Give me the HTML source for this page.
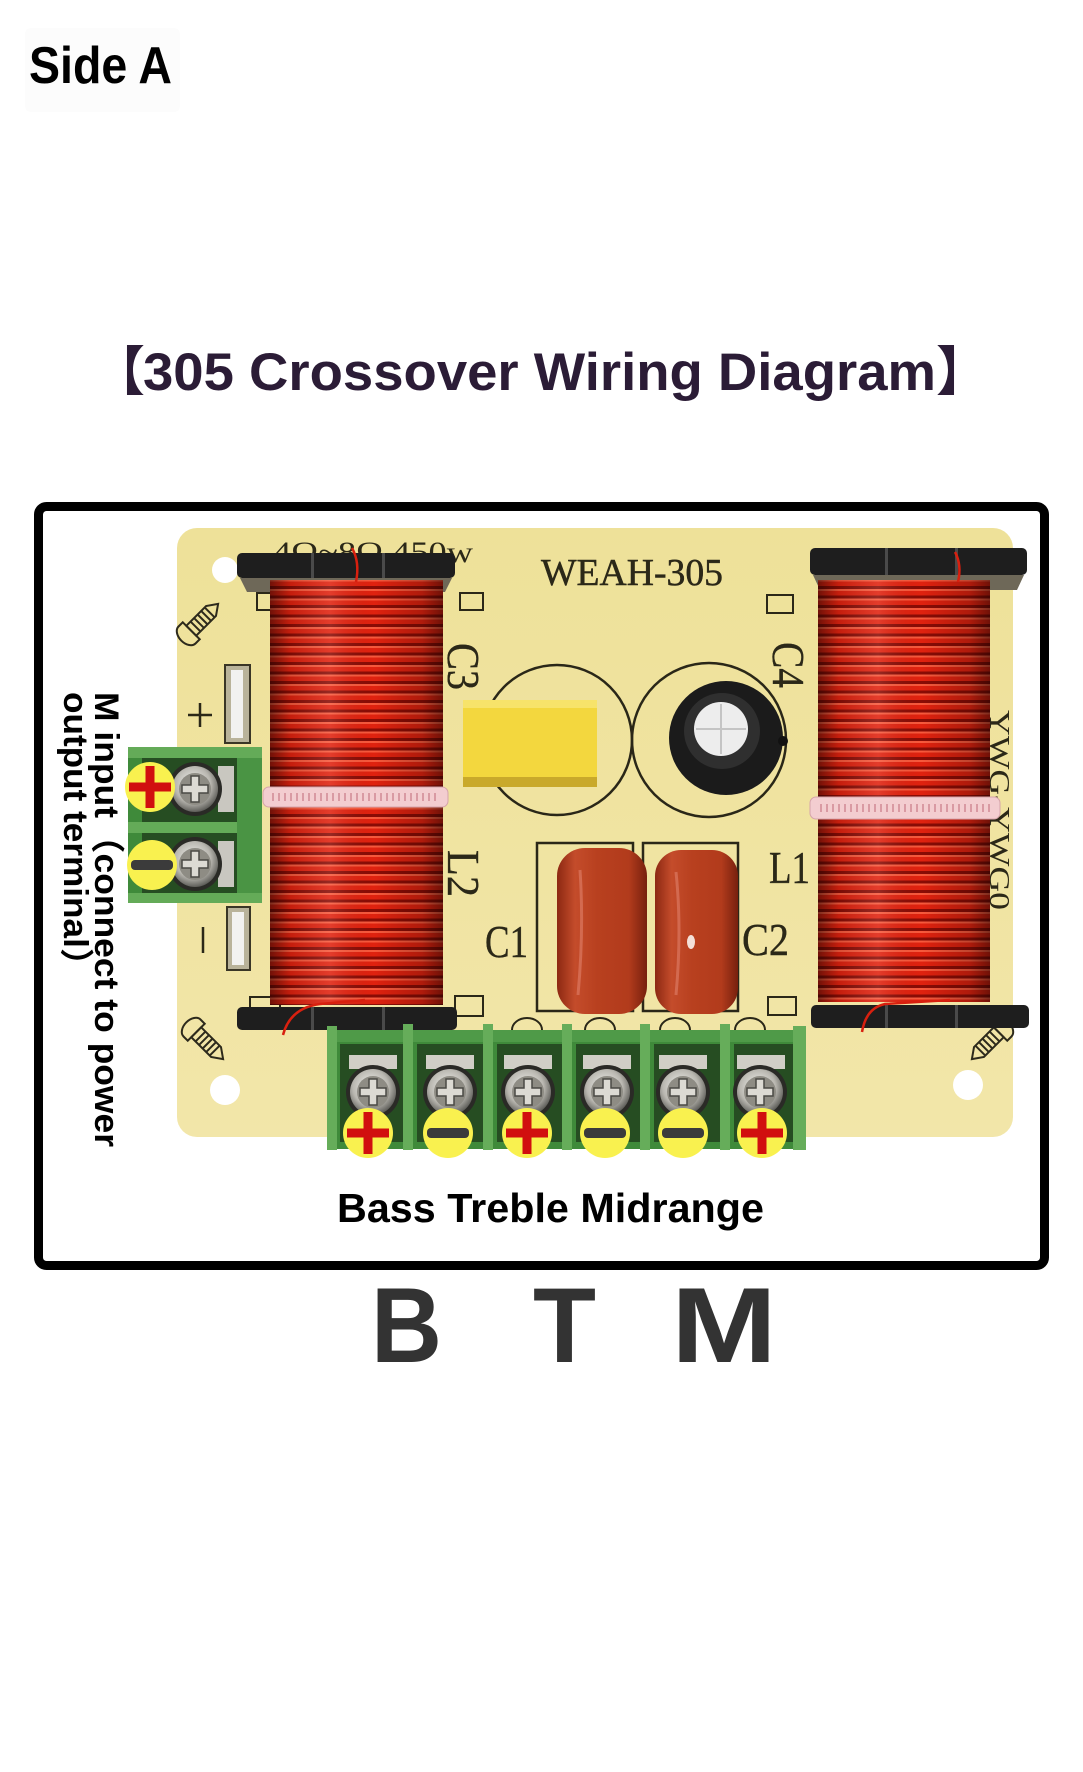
<!DOCTYPE html>
<html>
<head>
<meta charset="utf-8">
<style>
html,body{margin:0;padding:0;background:#fff;width:1083px;height:1772px;overflow:hidden}
svg{display:block}
</style>
</head>
<body>
<svg width="1083" height="1772" viewBox="0 0 1083 1772" xmlns="http://www.w3.org/2000/svg">
<defs>
  <pattern id="wind" x="0" y="0" width="10" height="9.5" patternUnits="userSpaceOnUse">
    <rect width="10" height="9.5" fill="#e0220f"/>
    <rect y="0" width="10" height="2" fill="#ff6a4a" opacity="0.75"/>
    <rect y="6.5" width="10" height="3" fill="#8a0c05"/>
  </pattern>
  <linearGradient id="cyl" x1="0" x2="1" y1="0" y2="0">
    <stop offset="0" stop-color="#000" stop-opacity="0.5"/>
    <stop offset="0.12" stop-color="#000" stop-opacity="0.12"/>
    <stop offset="0.35" stop-color="#fff" stop-opacity="0.12"/>
    <stop offset="0.6" stop-color="#000" stop-opacity="0"/>
    <stop offset="0.88" stop-color="#000" stop-opacity="0.22"/>
    <stop offset="1" stop-color="#000" stop-opacity="0.5"/>
  </linearGradient>
  <linearGradient id="pcb" x1="0" x2="0" y1="0" y2="1">
    <stop offset="0" stop-color="#eee199"/>
    <stop offset="1" stop-color="#f2e6a9"/>
  </linearGradient>
  <radialGradient id="screw" cx="0.45" cy="0.4" r="0.65">
    <stop offset="0" stop-color="#f6f6f3"/>
    <stop offset="0.6" stop-color="#b9b7b0"/>
    <stop offset="1" stop-color="#4a4a46"/>
  </radialGradient>
  <linearGradient id="capred" x1="0" x2="1" y1="0" y2="0">
    <stop offset="0" stop-color="#8c2812"/>
    <stop offset="0.2" stop-color="#c44c2b"/>
    <stop offset="0.45" stop-color="#b8401f"/>
    <stop offset="0.8" stop-color="#b23b1c"/>
    <stop offset="1" stop-color="#77200e"/>
  </linearGradient>
  <g id="scr">
    <circle r="27" fill="#2a2a26"/>
    <circle r="23" fill="url(#screw)"/>
    <circle r="16" fill="#8e8c84"/>
    <path d="M-13,-4h9v-9h8v9h9v8h-9v9h-8v-9h-9z" fill="#dcdad3" stroke="#4a4944" stroke-width="1.5"/>
  </g>
  <g id="plus">
    <circle r="25" fill="#f9f14f"/>
    <rect x="-21" y="-4.5" width="42" height="9" fill="#d10f0f"/>
    <rect x="-4.5" y="-21" width="9" height="42" fill="#d10f0f"/>
  </g>
  <g id="minus">
    <circle r="25" fill="#f9f14f"/>
    <rect x="-21" y="-5" width="42" height="10" rx="4" fill="#3b3b3b"/>
  </g>
  <g id="sicon" fill="none" stroke="#2d2a1c" stroke-width="2">
    <path d="M0,-12 a8,12 0 0 0 0,24 h6 v-24 z"/>
    <path d="M6,-7 h28 l10,7 l-10,7 h-28 z"/>
    <path d="M12,-7v14M17,-7v14M22,-7v14M27,-7v14M32,-7v14"/>
  </g>
</defs>

<rect width="1083" height="1772" fill="#fff"/>

<!-- Side A -->
<rect x="25" y="28" width="155" height="84" rx="6" fill="#fcfcfc"/>
<text x="29" y="83" font-family="'Liberation Sans', sans-serif" font-weight="bold" font-size="52" fill="#000" textLength="143" lengthAdjust="spacingAndGlyphs">Side A</text>

<!-- Title -->
<text x="92" y="390" font-family="'Noto Sans CJK SC', 'Liberation Sans', sans-serif" font-weight="bold" font-size="53" fill="#2b1c36">【</text>
<text x="143" y="390" font-family="'Liberation Sans', sans-serif" font-weight="bold" font-size="53" fill="#2b1c36" textLength="793" lengthAdjust="spacingAndGlyphs">305 Crossover Wiring Diagram</text>
<text x="936" y="390" font-family="'Noto Sans CJK SC', 'Liberation Sans', sans-serif" font-weight="bold" font-size="53" fill="#2b1c36">】</text>

<!-- PCB -->
<rect x="177" y="528" width="836" height="609" rx="20" fill="url(#pcb)"/>
<circle cx="225" cy="570" r="13" fill="#fff"/>
<circle cx="225" cy="1090" r="15" fill="#fff"/>
<circle cx="968" cy="1085" r="15" fill="#fff"/>

<!-- silkscreen screw icons -->
<use href="#sicon" transform="translate(187,635) rotate(-45)"/>
<use href="#sicon" transform="translate(192,1028) rotate(45)"/>
<use href="#sicon" transform="translate(1003,1028) rotate(135)"/>

<!-- top silkscreen text (mostly hidden) -->
<text x="273" y="562" font-family="'Liberation Serif', serif" font-size="30" fill="#2b2818" textLength="200" lengthAdjust="spacingAndGlyphs">4Ω~8Ω 450w</text>
<text x="541" y="585" font-family="'Liberation Serif', serif" font-size="38" fill="#2b2818" stroke="#2b2818" stroke-width="0.5" textLength="182" lengthAdjust="spacingAndGlyphs">WEAH-305</text>

<!-- small silkscreen rects near bobbins -->
<g fill="none" stroke="#2b2818" stroke-width="2">
  <rect x="257" y="593" width="14" height="17"/>
  <rect x="460" y="593" width="23" height="17"/>
  <rect x="767" y="595" width="26" height="18"/>
  <rect x="250" y="997" width="30" height="14"/>
  <rect x="455" y="996" width="28" height="20"/>
  <rect x="768" y="997" width="28" height="18"/>
</g>

<!-- rotated labels -->
<g font-family="'Liberation Serif', serif" font-size="46" fill="#2b2818" stroke="#2b2818" stroke-width="0.4">
  <text x="448" y="643" transform="rotate(90 448 643)" textLength="47" lengthAdjust="spacingAndGlyphs">C3</text>
  <text x="773" y="642" transform="rotate(90 773 642)" textLength="46" lengthAdjust="spacingAndGlyphs">C4</text>
  <text x="448" y="850" transform="rotate(90 448 850)" textLength="47" lengthAdjust="spacingAndGlyphs">L2</text>
  <text x="769" y="883" textLength="41" lengthAdjust="spacingAndGlyphs">L1</text>
  <text x="485" y="957" textLength="43" lengthAdjust="spacingAndGlyphs">C1</text>
  <text x="742" y="955" textLength="47" lengthAdjust="spacingAndGlyphs">C2</text>
</g>
<text x="990" y="710" transform="rotate(90 990 710)" font-family="'Liberation Serif', serif" font-size="28" fill="#2b2818" textLength="200" lengthAdjust="spacingAndGlyphs">YWG-YWG0</text>

<!-- +/- silkscreen and slots -->
<g stroke="#2b2818" stroke-width="2.5">
  <line x1="188" y1="715" x2="212" y2="715"/>
  <line x1="200" y1="703" x2="200" y2="727"/>
  <line x1="203" y1="927" x2="203" y2="953"/>
</g>
<rect x="225" y="665" width="25" height="78" fill="#b9b39a" stroke="#3a3626" stroke-width="2"/>
<rect x="231" y="670" width="12" height="68" fill="#f2f2f0"/>
<rect x="227" y="907" width="23" height="63" fill="#b9b39a" stroke="#3a3626" stroke-width="2"/>
<rect x="232" y="912" width="12" height="53" fill="#f2f2f0"/>

<!-- circles C3/C4 -->
<circle cx="557" cy="740" r="75" fill="none" stroke="#2a2718" stroke-width="2.5"/>
<circle cx="709" cy="740" r="77" fill="none" stroke="#2a2718" stroke-width="2.5"/>

<!-- yellow box cap -->
<rect x="463" y="700" width="134" height="87" fill="#f3d73e"/>
<rect x="463" y="700" width="134" height="8" fill="#f7e36a"/>
<rect x="463" y="777" width="134" height="10" fill="#c9a92b"/>

<!-- electrolytic -->
<circle cx="726" cy="738" r="57" fill="#1b1b1b"/>
<circle cx="722" cy="731" r="38" fill="#2f2f2f"/>
<circle cx="721" cy="729" r="27" fill="#ededed"/>
<line x1="721" y1="704" x2="721" y2="754" stroke="#c4c4c4" stroke-width="2"/>
<line x1="696" y1="729" x2="746" y2="729" stroke="#c4c4c4" stroke-width="2"/>
<circle cx="783" cy="741" r="5" fill="#111"/>

<!-- C1/C2 silkscreen boxes and caps -->
<rect x="537" y="843" width="96" height="168" fill="none" stroke="#2a2718" stroke-width="2.5"/>
<rect x="643" y="843" width="95" height="168" fill="none" stroke="#2a2718" stroke-width="2.5"/>
<rect x="557" y="848" width="90" height="166" rx="28" fill="url(#capred)"/>
<rect x="655" y="850" width="83" height="164" rx="26" fill="url(#capred)"/>
<path d="M580,870 Q584,930 578,995" stroke="#e0806a" stroke-width="3" fill="none" opacity="0.6"/>
<path d="M676,872 Q682,930 676,995" stroke="#e0806a" stroke-width="3" fill="none" opacity="0.6"/>
<ellipse cx="691" cy="942" rx="4" ry="7" fill="#f4e0d8"/>

<!-- left terminal block -->
<rect x="128" y="747" width="134" height="156" fill="#3f8a3a"/>
<rect x="142" y="758" width="95" height="64" fill="#264d22"/>
<rect x="142" y="833" width="95" height="60" fill="#264d22"/>
<rect x="128" y="747" width="134" height="11" fill="#64ab58"/>
<rect x="128" y="822" width="134" height="11" fill="#64ab58"/>
<rect x="128" y="893" width="134" height="10" fill="#64ab58"/>
<rect x="237" y="758" width="25" height="135" fill="#4a9444"/>
<rect x="218" y="766" width="16" height="46" fill="#c9c7c0"/>
<rect x="218" y="841" width="16" height="46" fill="#c9c7c0"/>
<use href="#scr" x="195" y="789"/>
<use href="#scr" x="195" y="864"/>
<use href="#plus" x="150" y="787"/>
<use href="#minus" x="152" y="865"/>

<!-- left coil -->
<path d="M240,578 L452,578 L445,592 L247,592 Z" fill="#6e6858"/>
<rect x="270" y="580" width="173" height="425" fill="url(#wind)"/>
<rect x="270" y="580" width="173" height="425" fill="url(#cyl)"/>
<rect x="237" y="553" width="218" height="25" rx="5" fill="#1e1e1e"/>
<rect x="311" y="553" width="3" height="25" fill="#4a4a4a"/>
<rect x="382" y="553" width="3" height="25" fill="#4a4a4a"/>
<rect x="237" y="1007" width="220" height="23" rx="5" fill="#1e1e1e"/>
<rect x="311" y="1007" width="3" height="23" fill="#4a4a4a"/>
<rect x="382" y="1007" width="3" height="23" fill="#4a4a4a"/>
<rect x="263" y="787" width="185" height="20" rx="6" fill="#f3cdd0" stroke="#d6a4aa" stroke-width="1"/>
<line x1="272" y1="797" x2="440" y2="797" stroke="#d99aa3" stroke-width="8" stroke-dasharray="2 4"/>
<path d="M352,548 Q360,562 356,582" stroke="#d8200f" stroke-width="2.5" fill="none"/>
<path d="M283,1035 Q290,1008 320,1004 L365,1000" stroke="#d8200f" stroke-width="2.5" fill="none"/>

<!-- right coil -->
<path d="M813,575 L1024,575 L1017,590 L820,590 Z" fill="#6e6858"/>
<rect x="818" y="580" width="172" height="422" fill="url(#wind)"/>
<rect x="818" y="580" width="172" height="422" fill="url(#cyl)"/>
<rect x="810" y="548" width="217" height="27" rx="5" fill="#1e1e1e"/>
<rect x="885" y="548" width="3" height="27" fill="#4a4a4a"/>
<rect x="955" y="548" width="3" height="27" fill="#4a4a4a"/>
<rect x="811" y="1005" width="218" height="23" rx="5" fill="#1e1e1e"/>
<rect x="885" y="1005" width="3" height="23" fill="#4a4a4a"/>
<rect x="955" y="1005" width="3" height="23" fill="#4a4a4a"/>
<rect x="810" y="797" width="190" height="22" rx="6" fill="#f3cdd0" stroke="#d6a4aa" stroke-width="1"/>
<line x1="820" y1="808" x2="990" y2="808" stroke="#d99aa3" stroke-width="8" stroke-dasharray="2 4"/>
<path d="M955,552 Q962,565 958,582" stroke="#d8200f" stroke-width="2.5" fill="none"/>
<path d="M862,1032 Q866,1008 885,1004 L950,1000" stroke="#d8200f" stroke-width="2.5" fill="none"/>

<!-- arcs above bottom block -->
<g fill="none" stroke="#2a2718" stroke-width="2">
  <path d="M512,1030 a15,12 0 0 1 30,0"/>
  <path d="M585,1030 a15,12 0 0 1 30,0"/>
  <path d="M660,1030 a15,12 0 0 1 30,0"/>
  <path d="M735,1030 a15,12 0 0 1 30,0"/>
</g>

<!-- bottom terminal block -->
<rect x="327" y="1030" width="479" height="119" fill="#3f8a3a"/>
<rect x="327" y="1030" width="479" height="12" fill="#4f9a48"/>
<g fill="#264d22">
  <rect x="340" y="1044" width="64" height="98"/>
  <rect x="417" y="1044" width="66" height="98"/>
  <rect x="497" y="1044" width="66" height="98"/>
  <rect x="576" y="1044" width="65" height="98"/>
  <rect x="654" y="1044" width="67" height="98"/>
  <rect x="734" y="1044" width="59" height="98"/>
</g>
<g fill="#66ad5a">
  <rect x="327" y="1026" width="10" height="124"/>
  <rect x="403" y="1024" width="10" height="126"/>
  <rect x="483" y="1024" width="10" height="126"/>
  <rect x="562" y="1024" width="10" height="126"/>
  <rect x="640" y="1024" width="10" height="126"/>
  <rect x="720" y="1024" width="10" height="126"/>
  <rect x="793" y="1026" width="13" height="124"/>
</g>
<g fill="#d0cec6">
  <rect x="349" y="1055" width="48" height="14"/>
  <rect x="426" y="1055" width="48" height="14"/>
  <rect x="504" y="1055" width="48" height="14"/>
  <rect x="583" y="1055" width="48" height="14"/>
  <rect x="659" y="1055" width="48" height="14"/>
  <rect x="737" y="1055" width="48" height="14"/>
</g>
<use href="#scr" x="373" y="1092"/>
<use href="#scr" x="450" y="1092"/>
<use href="#scr" x="528" y="1092"/>
<use href="#scr" x="607" y="1092"/>
<use href="#scr" x="683" y="1092"/>
<use href="#scr" x="760" y="1092"/>
<use href="#plus" x="368" y="1133"/>
<use href="#minus" x="448" y="1133"/>
<use href="#plus" x="527" y="1133"/>
<use href="#minus" x="605" y="1133"/>
<use href="#minus" x="683" y="1133"/>
<use href="#plus" x="762" y="1133"/>

<!-- vertical text -->
<text x="95" y="692" transform="rotate(90 95 692)" font-family="'Liberation Sans', 'Noto Sans CJK SC', sans-serif" font-weight="bold" font-size="34" fill="#000" textLength="455" lengthAdjust="spacingAndGlyphs">M input（connect to power</text>
<text x="64" y="692" transform="rotate(90 64 692)" font-family="'Liberation Sans', 'Noto Sans CJK SC', sans-serif" font-weight="bold" font-size="34" fill="#000" textLength="291" lengthAdjust="spacingAndGlyphs">output terminal）</text>

<!-- caption -->
<text x="337" y="1222" font-family="'Liberation Sans', sans-serif" font-weight="bold" font-size="40.5" fill="#000" textLength="427" lengthAdjust="spacingAndGlyphs">Bass Treble Midrange</text>

<!-- frame -->
<rect x="38.5" y="506.5" width="1006" height="759" rx="8" fill="none" stroke="#000" stroke-width="9"/>

<!-- B T M -->
<g font-family="'Liberation Sans', sans-serif" font-weight="bold" font-size="107" fill="#333">
  <text x="371" y="1362" textLength="71" lengthAdjust="spacingAndGlyphs">B</text>
  <text x="533" y="1362" textLength="63" lengthAdjust="spacingAndGlyphs">T</text>
  <text x="671" y="1362" textLength="106" lengthAdjust="spacingAndGlyphs">M</text>
</g>
</svg>
</body>
</html>
